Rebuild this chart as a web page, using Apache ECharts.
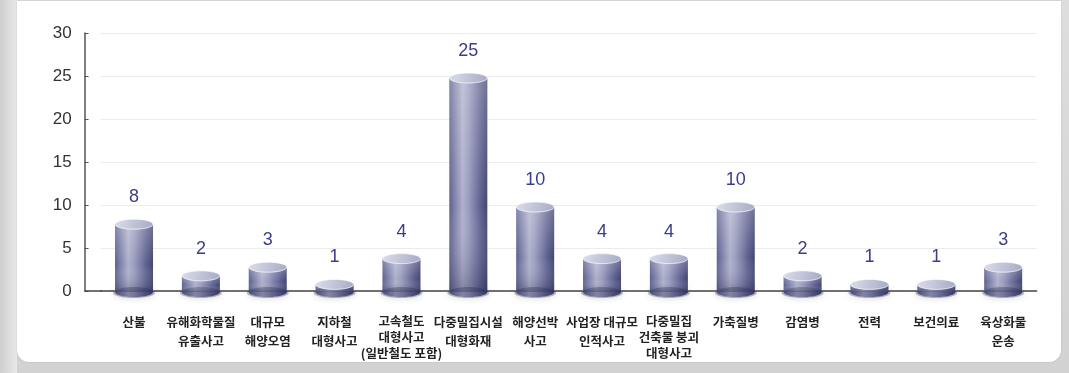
<!DOCTYPE html>
<html>
<head>
<meta charset="utf-8">
<script src="https://cdn.jsdelivr.net/npm/echarts@6/dist/echarts.min.js"></script>
<style>
html,body{margin:0;padding:0;}
body{width:1069px;height:373px;position:relative;overflow:hidden;
  background:linear-gradient(to bottom,#dedede,#d2d2d2);}
#panel{position:absolute;left:17px;top:1px;width:1044px;height:361px;background:#fff;
  border-radius:0 0 12px 12px;box-shadow:0 0 2px rgba(0,0,0,0.15);}
#left{position:absolute;left:0;top:0;width:17px;height:373px;background:linear-gradient(to right,#cfcfcf,#e8e8e8);}
#chart{position:absolute;left:0;top:0;width:1069px;height:373px;}
</style>
</head>
<body>
<div id="left"></div>
<div id="panel"></div>
<div id="chart"></div>
<script>
const categories = ['산불','유해화학물질\n유출사고','대규모\n해양오염','지하철\n대형사고','고속철도\n대형사고\n(일반철도 포함)','다중밀집시설\n대형화재','해양선박\n사고','사업장 대규모\n인적사고','다중밀집\n건축물 붕괴\n대형사고','가축질병','감염병','전력','보건의료','육상화물\n운송'];
const values = [8,2,3,1,4,25,10,4,4,10,2,1,1,3];
const yMin = 0, yMax = 30, yStep = 5;

const gridLeft = 100.6, gridRight = 32.4, gridTop = 33, gridBottom = 82, yAxisOffset = 16;

const chart = echarts.init(document.getElementById('chart'), null, {renderer:'canvas'});

const sideGrad = new echarts.graphic.LinearGradient(0,0,1,0,[
  {offset:0,color:'#5d6090'},
  {offset:0.35,color:'#aeb1cc'},
  {offset:0.5,color:'#9a9dbe'},
  {offset:0.82,color:'#5e6190'},
  {offset:1,color:'#42456f'}
]);
const shadeGrad = new echarts.graphic.LinearGradient(0,0,0,1,[
  {offset:0,color:'rgba(255,255,255,0.25)'},
  {offset:0.6,color:'rgba(255,255,255,0.0)'},
  {offset:1,color:'rgba(30,30,70,0.3)'}
]);
const topGrad = new echarts.graphic.LinearGradient(0,0,1,1,[
  {offset:0,color:'#dcdeea'},
  {offset:1,color:'#a6a9c6'}
]);

function renderItem(params, api){
  const idx = api.value(0), v = api.value(1);
  const top = api.coord([idx, v]);
  const base = api.coord([idx, 0]);
  const w = 38, ry = 5, cx = top[0], x0 = cx - w/2;
  const topY = top[1] + 2, baseY = base[1] + 1;
  return {
    type:'group',
    children:[
      {type:'ellipse', shape:{cx:cx, cy:baseY+1, rx:w/2+2, ry:5},
        style:{fill:'rgba(30,30,50,0.3)', shadowBlur:7, shadowColor:'rgba(20,20,40,0.55)'}},
      {type:'ellipse', shape:{cx:cx, cy:baseY, rx:w/2, ry:ry}, style:{fill:sideGrad}},
      {type:'rect', shape:{x:x0, y:topY, width:w, height:baseY-topY}, style:{fill:sideGrad}},
      {type:'ellipse', shape:{cx:cx, cy:baseY, rx:w/2, ry:ry}, style:{fill:'rgba(30,30,70,0.3)'}},
      {type:'rect', shape:{x:x0, y:topY, width:w, height:baseY-topY}, style:{fill:shadeGrad}},
      {type:'ellipse', shape:{cx:cx, cy:topY, rx:w/2, ry:ry},
        style:{fill:topGrad, stroke:'rgba(255,255,255,0.5)', lineWidth:0.8}},
      {type:'text', x:cx, y:topY-27,
        style:{text:String(v), align:'center', verticalAlign:'middle',
          font:'18px "Liberation Sans", Arial, sans-serif', fill:'#3b3d8c'}}
    ]
  };
}

const xData = categories.map(c => {
  const lines = c.split('\n').length;
  return lines >= 3 ? {value:c, textStyle:{lineHeight:16}} : c;
});

chart.setOption({
  animation:false,
  backgroundColor:'transparent',
  grid:{left:gridLeft, right:gridRight, top:gridTop, bottom:gridBottom},
  xAxis:{
    type:'category', data:xData,
    axisLine:{show:true, lineStyle:{color:'#444', width:1.5}},
    axisTick:{show:false},
    axisLabel:{interval:0, margin:22, fontSize:12.5, fontWeight:'bold', color:'#222',
      lineHeight:19, fontFamily:'"Noto Sans CJK KR", sans-serif'}
  },
  yAxis:{
    type:'value', min:yMin, max:yMax, interval:yStep, offset:yAxisOffset,
    axisLine:{show:true, lineStyle:{color:'#555', width:1.5}},
    axisTick:{show:true, inside:true, length:4, lineStyle:{color:'#555'}},
    axisLabel:{fontSize:17, color:'#333', margin:13, fontFamily:'"Liberation Sans", Arial, sans-serif'},
    splitLine:{show:true, lineStyle:{color:'#ececec', width:1}}
  },
  series:[{
    type:'custom',
    renderItem:renderItem,
    data:values.map((v,i)=>[i,v]),
    encode:{x:0, y:1},
    clip:false
  }]
});

// join x axis line to the offset y axis
const y0 = chart.convertToPixel({yAxisIndex:0}, 0);
chart.setOption({
  graphic:[{type:'line', z:5,
    shape:{x1:gridLeft - yAxisOffset, y1:y0, x2:gridLeft + 1, y2:y0},
    style:{stroke:'#444', lineWidth:1.5}}]
});
</script>
</body>
</html>
